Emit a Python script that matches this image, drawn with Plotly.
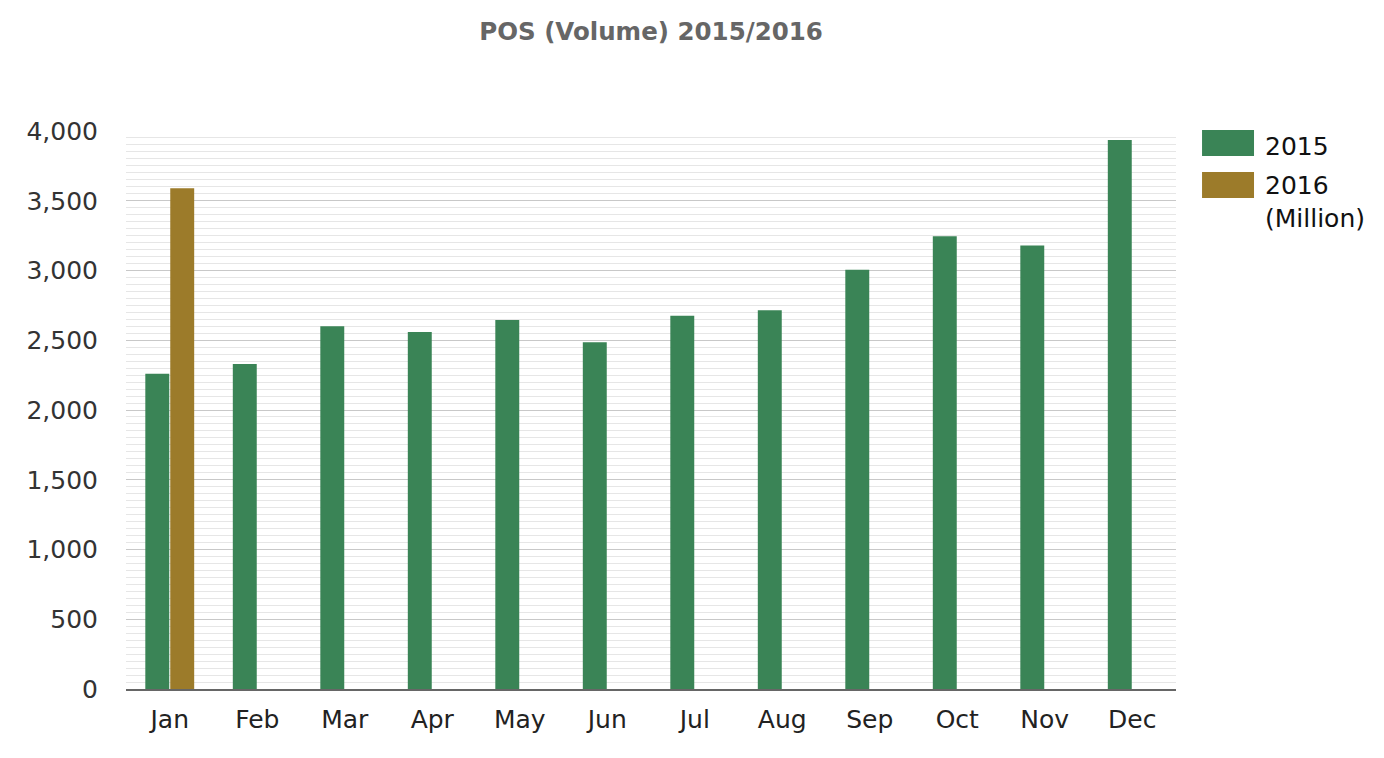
import plotly.graph_objects as go

months = ["Jan", "Feb", "Mar", "Apr", "May", "Jun", "Jul", "Aug", "Sep", "Oct", "Nov", "Dec"]
vol_2015 = [2260, 2330, 2600, 2560, 2645, 2485, 2675, 2715, 3005, 3245, 3180, 3935]
vol_2016 = [3590, None, None, None, None, None, None, None, None, None, None, None]
series_names = ["2015", "2016<br>(Million)"]
colors = ["#3a8456", "#9c7b2a"]
y_ticks = [0, 500, 1000, 1500, 2000, 2500, 3000, 3500, 4000]

FONT = "DejaVu Sans"

fig = go.Figure()
fig.add_trace(go.Bar(x=months, y=vol_2015, name=series_names[0], marker_color=colors[0],
                     marker_line_width=0, showlegend=False))
fig.add_trace(go.Bar(x=months, y=vol_2016, name=series_names[1], marker_color=colors[1],
                     marker_line_width=0, showlegend=False))

# custom legend (large swatches)
sw_x0, sw_x1 = 1.0248, 1.0743
sw_rows = [(1.0018, 0.9552), (0.9265, 0.8799)]
for (y1, y0), c in zip(sw_rows, colors):
    fig.add_shape(type="rect", xref="paper", yref="paper", x0=sw_x0, x1=sw_x1, y0=y0, y1=y1,
                  fillcolor=c, line_width=0)
fig.add_annotation(xref="paper", yref="paper", x=1.0830, y=0.9730, xanchor="left", yanchor="middle",
                   text=series_names[0], showarrow=False, align="left",
                   font=dict(family=FONT, size=25, color="#111"))
fig.add_annotation(xref="paper", yref="paper", x=1.0830, y=0.9320, xanchor="left", yanchor="top",
                   text=series_names[1], showarrow=False, align="left",
                   font=dict(family=FONT, size=25, color="#111"))

fig.update_layout(
    width=1384, height=758,
    margin=dict(l=126, r=208, t=131, b=69),
    paper_bgcolor="white", plot_bgcolor="white",
    barmode="group", bargap=0.43, bargroupgap=0.04,
    title=dict(text="<b>POS (Volume) 2015/2016</b>", x=0.5, xref="paper", xanchor="center",
               y=1 - 31 / 758, yref="container", yanchor="middle",
               font=dict(family=FONT, size=24.5, color="#666")),
    font=dict(family=FONT, size=25, color="#333"),
)
fig.update_xaxes(showgrid=False, showline=True, linecolor="#666", linewidth=2,
                 ticks="", ticklabelstandoff=7, tickfont=dict(size=25, color="#222"))
fig.update_yaxes(range=[0, 4000], tickvals=y_ticks, tickformat=",d", showgrid=True,
                 gridcolor="#c8c8c8", gridwidth=1, zeroline=False, ticks="",
                 ticklabelstandoff=27, tickfont=dict(size=25, color="#333"),
                 minor=dict(dtick=50, showgrid=True, gridcolor="#e6e6e6", gridwidth=1))

fig.write_html("out.html")
